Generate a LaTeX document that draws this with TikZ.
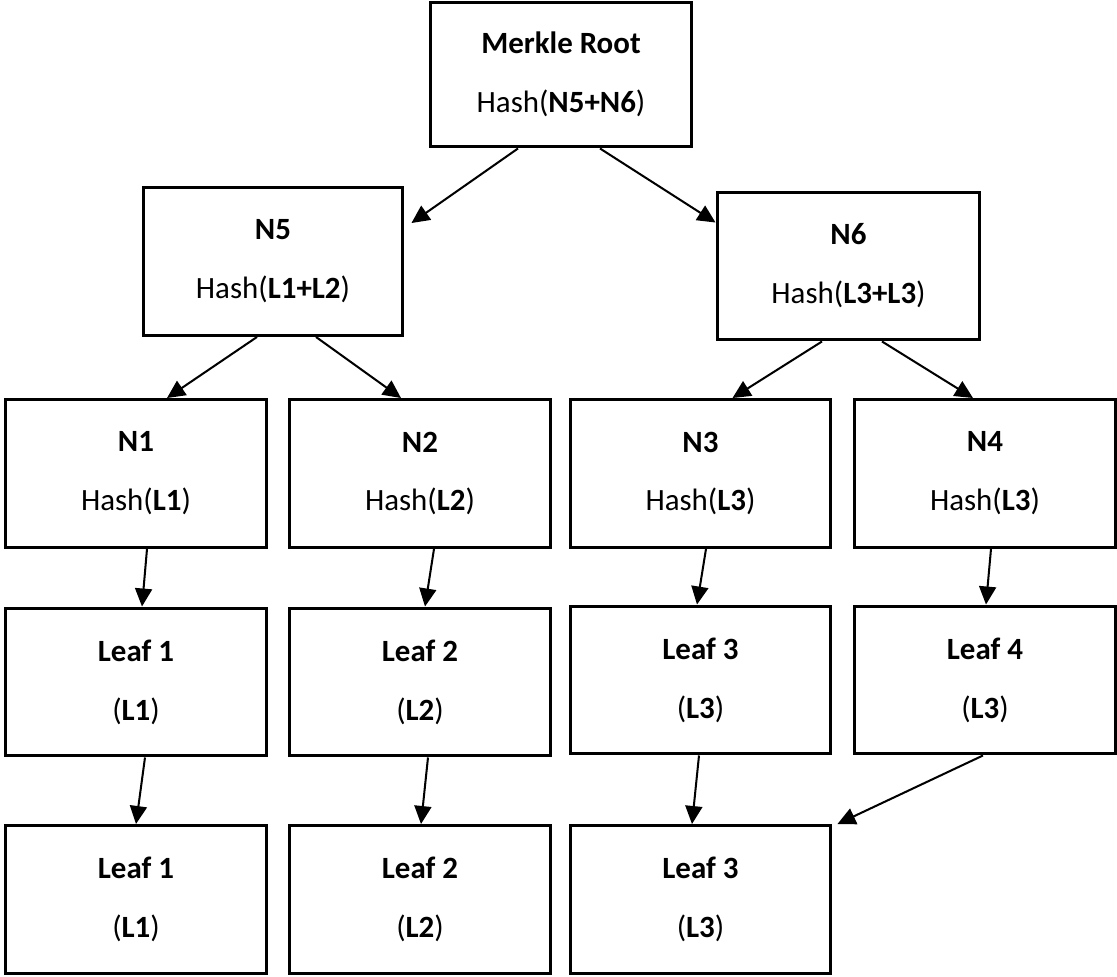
\documentclass[tikz,border=0pt]{standalone}
\usepackage{fontspec}
\setmainfont{Carlito}
\usetikzlibrary{arrows.meta,calc}

\begin{document}
\begin{tikzpicture}[x=0.02cm, y=-0.02cm, >={Triangle[length=0.36cm, width=0.34cm]},
  block/.style={draw, line width=1.7pt, minimum width=5.22cm, minimum height=2.96cm,
    align=center, inner sep=0pt, font=\fontsize{17.6}{33.5}\selectfont},
  link/.style={->, line width=1.15pt}]

\useasboundingbox (0,0) rectangle (1117,977);

% root and middle hashes
\node [block, minimum width=5.24cm, minimum height=2.9cm] (root) at (561,74.5)
  {\textbf{Merkle Root}\\Hash(\textbf{N5+N6})};
\node [block, minimum width=5.2cm] (n-5) at (273,261.5) {\textbf{N5}\\Hash(\textbf{L1+L2})};
\node [block, minimum width=5.26cm] (n-6) at (848.5,266) {\textbf{N6}\\Hash(\textbf{L3+L3})};

\foreach \m/\x/\l in {1/136/1, 2/420/2, 3/700.5/3, 4/985/3}
  \node [block] (n-\m) at (\x,473.5) {\textbf{N\m}\\Hash(\textbf{L\l})};

\foreach \m/\x/\y/\l in {1/136/682/1, 2/420/682/2, 3/700.5/680/3, 4/985/680/3}
  \node [block] (leaf-\m) at (\x,\y) {\textbf{Leaf \m}\\(\textbf{L\l})};

\foreach \m/\x in {1/136, 2/420, 3/700.5}
  \node [block] (copy-\m) at (\x,899.5) {\textbf{Leaf \m}\\(\textbf{L\m})};

% top links
\draw [link] ($(root.south)+(-43,0)$) -- ($(n-5.north east)+(7,37)$);
\draw [link] ($(root.south)+(39,0)$) -- ($(n-6.north west)+(0,32)$);
\draw [link] ($(n-5.south)+(-16,0)$) -- ($(n-1.north)+(31,0)$);
\draw [link] ($(n-5.south)+(43,0)$) -- ($(n-2.north)+(-19,0)$);
\draw [link] ($(n-6.south)+(-26.5,0)$) -- ($(n-3.north)+(32,0)$);
\draw [link] ($(n-6.south)+(33.5,0)$) -- ($(n-4.north)+(-12,0)$);

% down to the leaves
\foreach \i/\a/\b in {1/11/6, 2/14/5, 3/5.5/-3.5, 4/6/1}
  \draw [link] ($(n-\i.south)+(\a,0)$) -- ($(leaf-\i.north)+(\b,0)$);

\foreach \i/\a/\b in {1/9/0, 2/8/1, 3/-1.5/-8.5}
  \draw [link] ($(leaf-\i.south)+(\a,0)$) -- ($(copy-\i.north)+(\b,0)$);

\draw [link] ($(leaf-4.south)+(-2,0)$) -- ($(copy-3.north east)+(5,0)$);

\end{tikzpicture}
\end{document}
